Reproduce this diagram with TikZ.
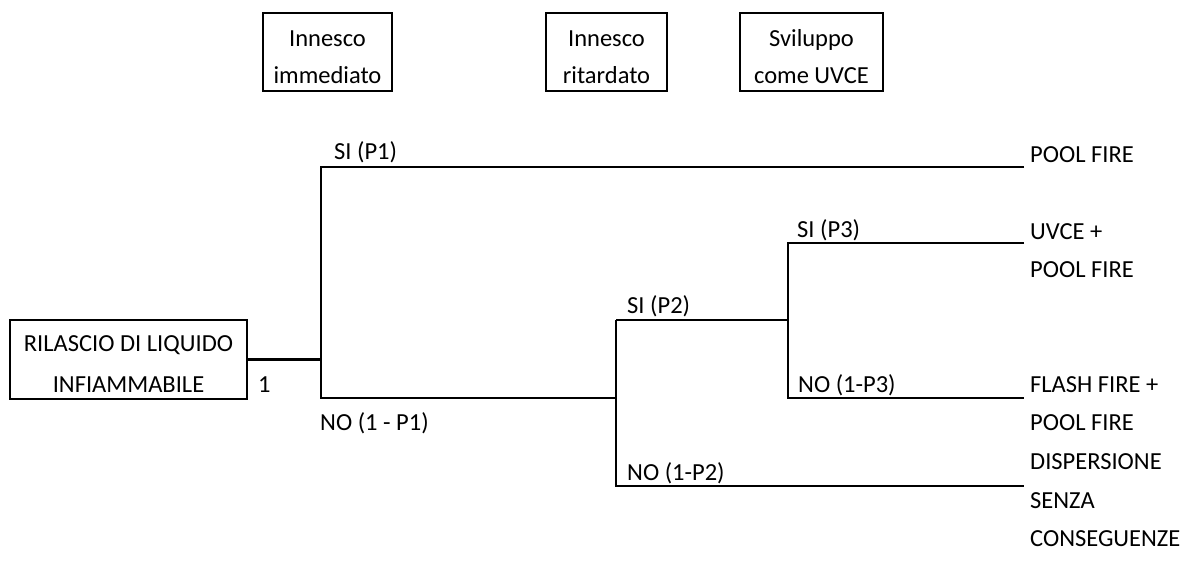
\documentclass[tikz,border=0pt]{standalone}
\usepackage{fontspec}
\setmainfont{Carlito}
\begin{document}
\begin{tikzpicture}[x=1pt,y=-1pt,
  txt/.style={inner sep=0pt, font=\fontsize{24.5}{37}\selectfont},
  lbl/.style={txt, anchor=base west},
  boxtxt/.style={txt, anchor=base, align=center},
  frame/.style={draw, line width=2.2pt, inner sep=0pt},
  conn/.style={line width=2.2pt}]
\useasboundingbox (0,0) rectangle (1187,583);
% header boxes
\node[frame, minimum width=129pt, minimum height=78pt] (h1) at (327.5,52) {};
\node[boxtxt] (h1t) at (327.5,84) {Innesco\\immediato};
\node[frame, minimum width=121pt, minimum height=78pt] (h2) at (606.5,52) {};
\node[boxtxt] (h2t) at (606.5,84) {Innesco\\ritardato};
\node[frame, minimum width=143pt, minimum height=78pt] (h3) at (811.5,52) {};
\node[boxtxt] (h3t) at (811.5,84) {Sviluppo\\come UVCE};
% start box
\node[frame, minimum width=237pt, minimum height=79pt] (start) at (128.5,359.5) {};
\node[boxtxt, font=\fontsize{24.5}{41}\selectfont] (startt) at (128.5,392) {RILASCIO DI LIQUIDO\\INFIAMMABILE};
\node[lbl] (one) at (258,392) {1};
% coordinates
\coordinate (j1) at (321,359.5);
\coordinate (a1) at (321,167);
\coordinate (a2) at (321,398);
\coordinate (e1) at (1024,167);
\coordinate (c0) at (616,398);
\coordinate (c1) at (616,320);
\coordinate (c2) at (616,486);
\coordinate (d0) at (788,320);
\coordinate (d1) at (788,243);
\coordinate (d2) at (788,398);
\coordinate (e2) at (1024,243);
\coordinate (e3) at (1024,398);
\coordinate (e4) at (1024,486);
% connectors
\draw[conn] (start.east) -- (j1);
\draw[conn] (e1) -- (a1) -- (a2) -- (c0);
\draw[conn] (c1) -- (c2) -- (e4);
\draw[conn] (c1) -- (d0);
\draw[conn] (e2) -- (d1) -- (d2) -- (e3);
% branch labels
\node[lbl] (si1) at (334,160) {SI (P1)};
\node[lbl] (no1) at (320,430) {NO (1 - P1)};
\node[lbl] (si2) at (627,313) {SI (P2)};
\node[lbl] (no2) at (627,480) {NO (1-P2)};
\node[lbl] (si3) at (797,237) {SI (P3)};
\node[lbl] (no3) at (798,392) {NO (1-P3)};
% outcomes
\node[lbl] (o1) at (1030,163) {POOL FIRE};
\node[lbl] (o2a) at (1030,240) {UVCE +};
\node[lbl] (o2b) at (1030,277) {POOL FIRE};
\node[lbl] (o3a) at (1030,392) {FLASH FIRE +};
\node[lbl] (o3b) at (1030,430) {POOL FIRE};
\node[lbl] (o4a) at (1030,469) {DISPERSIONE};
\node[lbl] (o4b) at (1030,508) {SENZA};
\node[lbl] (o4c) at (1030,546) {CONSEGUENZE};
\end{tikzpicture}
\end{document}
